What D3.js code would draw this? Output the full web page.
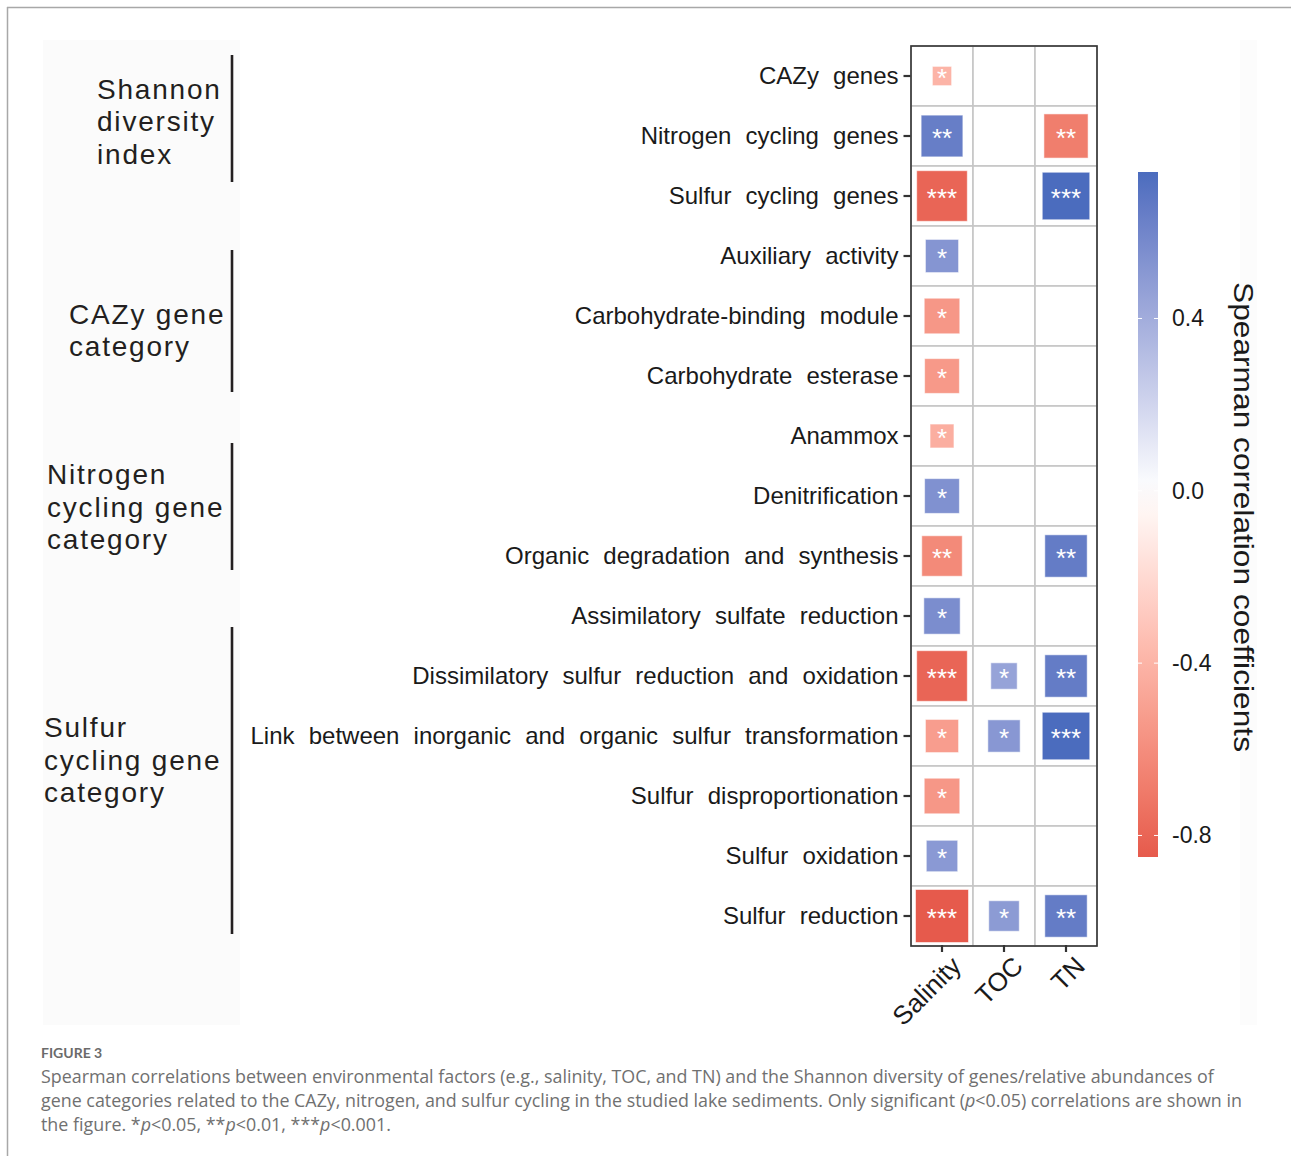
<!DOCTYPE html>
<html><head><meta charset="utf-8">
<script src="https://cdn.jsdelivr.net/npm/d3@7"></script>
<style>body{margin:0;background:#fff}svg{display:block}</style>
</head><body>
<svg id="c" width="1291" height="1156"></svg>
<script>
// ---------------- DATA ----------------
const rowLabels = [
  "CAZy genes",
  "Nitrogen cycling genes",
  "Sulfur cycling genes",
  "Auxiliary activity",
  "Carbohydrate-binding module",
  "Carbohydrate esterase",
  "Anammox",
  "Denitrification",
  "Organic degradation and synthesis",
  "Assimilatory sulfate reduction",
  "Dissimilatory sulfur reduction and oxidation",
  "Link between inorganic and organic sulfur transformation",
  "Sulfur disproportionation",
  "Sulfur oxidation",
  "Sulfur reduction"
];
const factors = ["Salinity", "TOC", "TN"];
const salinityR = [-0.40, 0.64, -0.80, 0.52, -0.55, -0.54, -0.43, 0.54, -0.62, 0.56, -0.80, -0.52, -0.55, 0.50, -0.85];
const tocR      = [null, null, null, null, null, null, null, null, null, null, 0.45, 0.51, null, null, 0.49];
const tnR       = [null, -0.68, 0.74, null, null, null, null, null, 0.65, null, 0.65, 0.74, null, null, 0.65];
const salinitySig = ["*", "**", "***", "*", "*", "*", "*", "*", "**", "*", "***", "*", "*", "*", "***"];
const tocSig      = ["", "", "", "", "", "", "", "", "", "", "*", "*", "", "", "*"];
const tnSig       = ["", "**", "***", "", "", "", "", "", "**", "", "**", "***", "", "", "**"];
const colorTicks = [-0.8, -0.4, 0.0, 0.4];
const groupLabels = [
  ["Shannon", "diversity", "index"],
  ["CAZy gene", "category"],
  ["Nitrogen", "cycling gene", "category"],
  ["Sulfur", "cycling gene", "category"]
];
const captionTitle = "FIGURE 3";
const captionLines = [
  [["Spearman correlations between environmental factors (e.g., salinity, TOC, and TN) and the Shannon diversity of genes/relative abundances of", false]],
  [["gene categories related to the CAZy, nitrogen, and sulfur cycling in the studied lake sediments. Only significant (", false], ["p", true], ["<0.05) correlations are shown in", false]],
  [["the figure. *", false], ["p", true], ["<0.05, **", false], ["p", true], ["<0.01, ***", false], ["p", true], ["<0.001.", false]]
];

// ---------------- LAYOUT ----------------
const svg = d3.select("#c");
const W = 1291, H = 1156;
const panel = {x0: 911, x1: 1097, y0: 46, y1: 946};
const groupLayout = [
  {x: 97, y: [99, 131, 164], br: [55, 182]},
  {x: 69, y: [324, 356], br: [250, 392]},
  {x: 47, y: [484, 517, 549], br: [443, 570]},
  {x: 44, y: [737, 770, 802], br: [627, 934]}
];
const captionLayout = {x: 41, titleY: 1058, y: [1083, 1107, 1131], len1: 1173};

// frame
svg.append("line").attr("x1", 7).attr("x2", W).attr("y1", 7.5).attr("y2", 7.5).attr("stroke", "#a8a8a8").attr("stroke-width", 1.5);
svg.append("line").attr("x1", 7.5).attr("x2", 7.5).attr("y1", 7).attr("y2", H).attr("stroke", "#a8a8a8").attr("stroke-width", 1.5);
// faint background panels
svg.append("rect").attr("x", 43).attr("y", 40).attr("width", 197).attr("height", 985).attr("fill", "#fbfbfb");
svg.append("rect").attr("x", 1240).attr("y", 40).attr("width", 17).attr("height", 985).attr("fill", "#fcfcfc");

// scales
const x = d3.scaleBand().domain(factors).range([panel.x0, panel.x1]);
const y = d3.scaleBand().domain(rowLabels).range([panel.y0, panel.y1]);
const allVals = salinityR.concat(tocR, tnR).filter(v => v !== null);
const ext = d3.extent(allVals);
const color = d3.scaleLinear().domain([ext[0], 0, ext[1]]).range(["#E65A4C", "#ffffff", "#4B6CBE"]).interpolate(d3.interpolateLab);
const absExt = d3.extent(allVals.map(Math.abs));
const tScale = d3.scaleLinear().domain([absExt[0] - 0.03, absExt[1]]).range([0, 1]);
const sideScale = d3.scaleSqrt().domain([0, 1]).range([8, 53]);

// cells
const series = [salinityR, tocR, tnR];
const sigs = [salinitySig, tocSig, tnSig];
const cells = [];
rowLabels.forEach((r, i) => factors.forEach((f, j) => cells.push({row: r, f, v: series[j][i], s: sigs[j][i]})));

const g = svg.append("g");
g.selectAll("rect.cell").data(cells).join("rect").attr("class", "cell")
  .attr("x", d => x(d.f)).attr("y", d => y(d.row))
  .attr("width", x.bandwidth()).attr("height", y.bandwidth())
  .attr("fill", "#fff").attr("stroke", "#c6c6c6").attr("stroke-width", 1.6);

const filled = cells.filter(d => d.v !== null);
g.selectAll("rect.sq").data(filled).join("rect").attr("class", "sq")
  .attr("x", d => x(d.f) + x.bandwidth() / 2 - sideScale(tScale(Math.abs(d.v))) / 2)
  .attr("y", d => y(d.row) + y.bandwidth() / 2 - sideScale(tScale(Math.abs(d.v))) / 2)
  .attr("width", d => sideScale(tScale(Math.abs(d.v))))
  .attr("height", d => sideScale(tScale(Math.abs(d.v))))
  .attr("fill", d => color(d.v))
  .attr("stroke", "rgba(255,255,255,0.55)").attr("stroke-width", 1);

g.selectAll("text.sig").data(filled).join("text").attr("class", "sig")
  .attr("x", d => x(d.f) + x.bandwidth() / 2)
  .attr("y", d => y(d.row) + y.bandwidth() / 2 + 11)
  .attr("text-anchor", "middle")
  .attr("font-family", "Liberation Sans, Arial, sans-serif").attr("font-size", 26)
  .attr("fill", "#fff").text(d => d.s);

svg.append("rect").attr("x", panel.x0).attr("y", panel.y0)
  .attr("width", panel.x1 - panel.x0).attr("height", panel.y1 - panel.y0)
  .attr("fill", "none").attr("stroke", "#333").attr("stroke-width", 1.6);

// y axis
const yAxis = d3.axisLeft(y).tickSize(7).tickPadding(5);
const yg = svg.append("g").attr("transform", `translate(${panel.x0 - 0.5},0)`).call(yAxis);
yg.select(".domain").remove();
yg.selectAll(".tick line").attr("stroke", "#333").attr("stroke-width", 2.2);
yg.selectAll(".tick text").attr("font-family", "Liberation Sans, Arial, sans-serif").attr("font-size", 24)
  .attr("fill", "#1a1a1a").style("word-spacing", "7.5px").attr("dy", "0.32em");

// x axis
const xAxis = d3.axisBottom(x).tickSize(7).tickPadding(4);
const xg = svg.append("g").attr("transform", `translate(0,${panel.y1 - 1})`).call(xAxis);
xg.select(".domain").remove();
xg.selectAll(".tick line").attr("stroke", "#333").attr("stroke-width", 2.2);
xg.selectAll(".tick text").attr("font-family", "Liberation Sans, Arial, sans-serif").attr("font-size", 26)
  .attr("fill", "#1a1a1a").attr("text-anchor", "end")
  .attr("transform", "translate(0,2) rotate(-45)").attr("dy", "0.7em");

// colorbar
const cb = {x: 1138, w: 20, y0: 857, y1: 172};
const cy = d3.scaleLinear().domain(ext).range([cb.y0, cb.y1]);
const defs = svg.append("defs");
const grad = defs.append("linearGradient").attr("id", "cbg").attr("x1", 0).attr("x2", 0).attr("y1", 1).attr("y2", 0);
d3.range(0, 1.0001, 0.05).forEach(t => {
  const v = ext[0] + t * (ext[1] - ext[0]);
  grad.append("stop").attr("offset", t).attr("stop-color", color(v));
});
svg.append("rect").attr("x", cb.x).attr("y", cb.y1).attr("width", cb.w).attr("height", cb.y0 - cb.y1).attr("fill", "url(#cbg)");
const cbAxis = d3.axisRight(cy).tickValues(colorTicks).tickFormat(d => d.toFixed(1)).tickSize(0).tickPadding(14);
const cbg = svg.append("g").attr("transform", `translate(${cb.x + cb.w},0)`).call(cbAxis);
cbg.select(".domain").remove();
cbg.selectAll(".tick text").attr("font-family", "Liberation Sans, Arial, sans-serif").attr("font-size", 23).attr("fill", "#1a1a1a");
svg.selectAll("line.cbt").data(colorTicks.flatMap(v => [[v, cb.x], [v, cb.x + cb.w - 4]])).join("line")
  .attr("x1", d => d[1]).attr("x2", d => d[1] + 4).attr("y1", d => cy(d[0])).attr("y2", d => cy(d[0]))
  .attr("stroke", "#fff").attr("stroke-width", 1);
svg.append("text").attr("transform", "translate(1234,517) rotate(90)")
  .attr("text-anchor", "middle").attr("font-family", "Liberation Sans, Arial, sans-serif").attr("font-size", 28)
  .attr("fill", "#1a1a1a").attr("textLength", 470).attr("lengthAdjust", "spacingAndGlyphs")
  .text("Spearman correlation coefficients");

// group labels and brackets
groupLabels.forEach((lines, k) => {
  const L = groupLayout[k];
  svg.append("line").attr("x1", 232).attr("x2", 232).attr("y1", L.br[0]).attr("y2", L.br[1])
    .attr("stroke", "#231f20").attr("stroke-width", 2.6);
  lines.forEach((t, m) => {
    svg.append("text").attr("x", L.x).attr("y", L.y[m])
      .attr("font-family", "Liberation Sans, Arial, sans-serif").attr("font-size", 28)
      .attr("letter-spacing", 1.8).attr("fill", "#231f20").text(t);
  });
});

// caption
svg.append("text").attr("x", captionLayout.x).attr("y", captionLayout.titleY)
  .attr("font-family", "Lato, 'Open Sans', sans-serif").attr("font-weight", "bold").attr("font-size", 14)
  .attr("fill", "#6b6b6b").text(captionTitle);
const capTexts = captionLines.map((parts, i) => {
  const t = svg.append("text").attr("x", captionLayout.x).attr("y", captionLayout.y[i])
    .attr("font-family", "'Open Sans', sans-serif").attr("font-size", 18)
    .attr("fill", "#707070");
  parts.forEach(([s, it]) => t.append("tspan").attr("font-style", it ? "italic" : "normal").text(s));
  return t;
});
const w1 = capTexts[0].node().getComputedTextLength();
const fs = 18 * captionLayout.len1 / w1;
capTexts.forEach(t => t.attr("font-size", fs));
</script>
</body></html>
